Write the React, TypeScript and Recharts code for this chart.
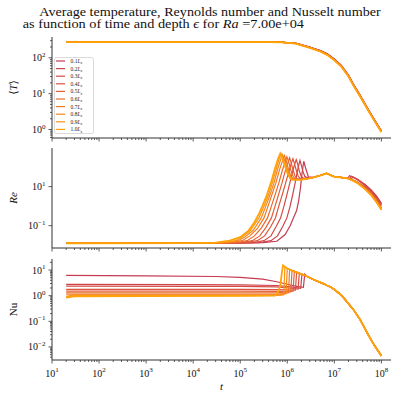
import React from 'react';
import { LineChart, Line, XAxis, YAxis, Legend } from 'recharts';

type Pt = [number, number];

const serif = "'Liberation Serif', 'DejaVu Serif', serif";
const frame = '#333';

const depths = ['0.1', '0.2', '0.3', '0.4', '0.5', '0.6', '0.7', '0.8', '0.9', '1.0'];
const colors = ['#c63b52', '#cd434b', '#d54b44', '#dc543d', '#e35e36', '#ea6a2e', '#ef7826', '#f4861d', '#f99413', '#ffa309'];

// axis ranges + major ticks
const xDomain: [number, number] = [10, 1.6e8];
const xMajor = [1e1, 1e2, 1e3, 1e4, 1e5, 1e6, 1e7, 1e8];
const tempDomain: [number, number] = [0.58, 380];
const tempMajor = [1, 10, 100];
const reDomain: [number, number] = [0.0072, 950];
const reMajor = [0.1, 10];
const nuDomain: [number, number] = [0.0031, 27];
const nuMajor = [0.01, 0.1, 1, 10];

// <T> : shared time samples
const tempTime = [20, 1e3, 1e5, 4e5, 8e5, 1.5e6, 3e6, 5e6, 7e6, 1e7, 1.4e7, 2e7, 2.6e7, 3.5e7, 5e7, 7e7, 1e8];
const temp01 = [275, 275, 274, 273, 270, 256, 200, 160, 131, 93, 62, 33, 17.5, 9.3, 4.1, 1.95, 0.92];
const temp02 = [275, 275, 274, 273, 270, 255, 199, 159, 130, 92, 61, 32.5, 17.3, 9.2, 4.05, 1.93, 0.91];
const temp03 = [275, 275, 274, 273, 270, 254, 197, 158, 128, 91, 60, 32, 17, 9.1, 4.0, 1.91, 0.9];
const temp04 = [275, 275, 274, 273, 269, 253, 196, 156, 127, 90, 59.5, 31.6, 16.8, 9.0, 3.95, 1.89, 0.89];
const temp05 = [275, 275, 274, 272, 269, 253, 195, 155, 126, 89, 59, 31.2, 16.6, 8.9, 3.92, 1.87, 0.89];
const temp06 = [275, 275, 274, 272, 269, 252, 194, 154, 125, 88, 58.5, 30.9, 16.4, 8.8, 3.9, 1.85, 0.88];
const temp07 = [275, 275, 274, 272, 268, 251, 193, 153, 124, 87, 58, 30.6, 16.3, 8.7, 3.87, 1.83, 0.87];
const temp08 = [275, 275, 274, 272, 268, 251, 192, 152, 123, 86.5, 57.6, 30.4, 16.2, 8.6, 3.85, 1.82, 0.86];
const temp09 = [275, 275, 274, 272, 268, 250, 191, 151, 122, 86, 57.3, 30.2, 16.1, 8.55, 3.82, 1.81, 0.86];
const temp10 = [275, 275, 274, 272, 268, 250, 190, 150, 121, 85, 57, 30, 16, 8.5, 3.8, 1.8, 0.85];

// Re : rise / peak per depth, then tails
const re01: Pt[] = [[20, 0.0126], [1e5, 0.0127], [3e5, 0.0135], [6e5, 0.016], [9e5, 0.035], [1.15e6, 0.1], [1.35e6, 0.25], [1.58e6, 0.6], [1.74e6, 1.8], [1.9e6, 8], [2.05e6, 45], [2.24e6, 200], [2.45e6, 90], [2.8e6, 32], [3.6e6, 30]];
const re02: Pt[] = [[20, 0.0126], [1e4, 0.0127], [2.5e5, 0.0134], [4.5e5, 0.017], [6.2e5, 0.03], [8e5, 0.09], [9.8e5, 0.25], [1.15e6, 1.0], [1.3e6, 3.8], [1.45e6, 13], [1.6e6, 45], [1.74e6, 120], [1.86e6, 220], [1.98e6, 130], [2.15e6, 60], [2.35e6, 34], [2.6e6, 29], [3.1e6, 29], [3.6e6, 30]];
const re03: Pt[] = [[20, 0.0126], [1e4, 0.0127], [1.8e5, 0.0134], [3.2e5, 0.017], [4.5e5, 0.03], [5.8e5, 0.09], [7.2e5, 0.25], [8.5e5, 1.0], [9.8e5, 3.8], [1.13e6, 15], [1.28e6, 50], [1.42e6, 130], [1.55e6, 240], [1.65e6, 150], [1.8e6, 65], [1.97e6, 34], [2.15e6, 28], [2.6e6, 27], [3.2e6, 28.5], [3.6e6, 30]];
const re04: Pt[] = [[20, 0.0126], [1e4, 0.0127], [1.3e5, 0.0134], [2.3e5, 0.017], [3.3e5, 0.03], [4.4e5, 0.085], [5.6e5, 0.25], [6.6e5, 1.0], [7.8e5, 3.8], [9.2e5, 15], [1.07e6, 55], [1.2e6, 140], [1.32e6, 270], [1.41e6, 160], [1.55e6, 70], [1.7e6, 35], [1.85e6, 27], [2.2e6, 25], [2.8e6, 26.5], [3.6e6, 30]];
const re05: Pt[] = [[20, 0.0126], [1e4, 0.0127], [1e5, 0.0134], [1.8e5, 0.017], [2.6e5, 0.03], [3.5e5, 0.08], [4.6e5, 0.25], [5.5e5, 1.0], [6.5e5, 3.8], [7.7e5, 15], [9e5, 60], [1.02e6, 150], [1.12e6, 300], [1.2e6, 180], [1.32e6, 75], [1.45e6, 36], [1.6e6, 26], [1.9e6, 24], [2.4e6, 25], [3e6, 27], [3.6e6, 30]];
const re06: Pt[] = [[20, 0.0126], [1e4, 0.0127], [8e4, 0.0134], [1.4e5, 0.017], [2e5, 0.03], [2.8e5, 0.075], [3.8e5, 0.25], [4.6e5, 1.0], [5.5e5, 3.8], [6.6e5, 15], [7.8e5, 65], [8.9e5, 170], [9.8e5, 340], [1.06e6, 200], [1.17e6, 80], [1.3e6, 37], [1.45e6, 26], [1.7e6, 23.5], [2.2e6, 24], [2.8e6, 26], [3.6e6, 30]];
const re07: Pt[] = [[20, 0.0126], [1e4, 0.0127], [6e4, 0.0134], [1.1e5, 0.017], [1.6e5, 0.03], [2.3e5, 0.07], [3.2e5, 0.25], [3.9e5, 1.0], [4.7e5, 3.8], [5.7e5, 15], [6.8e5, 70], [7.8e5, 190], [8.7e5, 390], [9.4e5, 230], [1.05e6, 85], [1.17e6, 38], [1.32e6, 26], [1.6e6, 23], [2.1e6, 23.5], [2.8e6, 26], [3.6e6, 30]];
const re08: Pt[] = [[20, 0.0126], [1e4, 0.0127], [5e4, 0.0134], [9e4, 0.017], [1.3e5, 0.028], [1.9e5, 0.06], [2.8e5, 0.25], [3.5e5, 1.0], [4.3e5, 3.8], [5.2e5, 15], [6.2e5, 75], [7.1e5, 210], [7.9e5, 430], [8.6e5, 260], [9.8e5, 95], [1.1e6, 40], [1.25e6, 26], [1.5e6, 23], [2e6, 23], [2.8e6, 26], [3.6e6, 30]];
const re09: Pt[] = [[20, 0.0126], [1e4, 0.0127], [4e4, 0.0134], [8e4, 0.017], [1.1e5, 0.026], [1.65e5, 0.058], [2.5e5, 0.25], [3.2e5, 1.0], [4e5, 3.8], [4.8e5, 15], [5.8e5, 80], [6.6e5, 230], [7.4e5, 470], [8e5, 300], [9.3e5, 100], [1.05e6, 42], [1.2e6, 27], [1.4e6, 23], [2e6, 23], [2.8e6, 26], [3.6e6, 30]];
const re10: Pt[] = [[20, 0.0126], [1e4, 0.0128], [3e4, 0.0135], [6e4, 0.017], [1e5, 0.026], [1.5e5, 0.055], [2e5, 0.15], [2.5e5, 0.4], [3e5, 1.1], [3.7e5, 3.8], [4.5e5, 16], [5.5e5, 87], [6.3e5, 250], [7.1e5, 500], [7.7e5, 320], [9e5, 110], [1.02e6, 45], [1.15e6, 27], [1.3e6, 22], [2e6, 23], [2.8e6, 26], [3.6e6, 30]];

const reTail01: Pt[] = [[5e6, 37], [6.8e6, 48], [8.5e6, 38], [1e7, 32], [1.5e7, 29], [1.9e7, 26], [2.1e7, 36], [3e7, 25], [4.5e7, 13], [6e7, 7], [8e7, 3.2], [1e8, 1.4]];
const reTail02: Pt[] = [[5e6, 37], [6.8e6, 48], [8.5e6, 38], [1e7, 32], [1.5e7, 29], [2.1e7, 26], [2.3e7, 34], [3e7, 24], [4.5e7, 12], [6e7, 6.4], [8e7, 2.9], [1e8, 1.3]];
const reTail03: Pt[] = [[5e6, 37], [6.8e6, 48], [8.5e6, 38], [1e7, 32], [1.5e7, 29], [2.3e7, 25], [2.5e7, 31], [3.3e7, 21], [4.5e7, 11], [6e7, 5.8], [8e7, 2.6], [1e8, 1.15]];
const reTail04: Pt[] = [[5e6, 37], [6.8e6, 48], [8.5e6, 38], [1e7, 32], [1.5e7, 29], [2e7, 27], [3e7, 18], [4.5e7, 9.5], [6e7, 5], [8e7, 2.3], [1e8, 1.0]];
const reTailMid: Pt[] = [[5e6, 37], [6.8e6, 48], [8.5e6, 38], [1e7, 32], [1.5e7, 29], [2e7, 26.5], [3e7, 17], [3.5e7, 13], [4.5e7, 8.3], [6e7, 4.3], [8e7, 1.8], [1e8, 0.8]];
const reTailOrange: Pt[] = [[5e6, 37], [6.8e6, 48], [8.5e6, 38], [1e7, 32], [1.5e7, 29], [2e7, 26], [3e7, 16], [3.5e7, 12], [4.5e7, 7.5], [6e7, 3.8], [8e7, 1.5], [1e8, 0.66]];

// Nu : plateau, jump, then shared decay
const nu01: Pt[] = [[20, 6.2], [1e3, 5.9], [3e4, 5.6], [1e5, 5.2], [3e5, 4.4], [6e5, 3.5], [1e6, 2.8], [1.6e6, 2.3], [2.2e6, 2.1], [2.35e6, 7.0], [2.5e6, 6.2]];
const nu02: Pt[] = [[20, 2.75], [1e4, 2.72], [1e5, 2.65], [6e5, 2.5], [1.2e6, 2.2], [1.93e6, 1.95], [2.05e6, 6.8], [2.25e6, 6.4]];
const nu03: Pt[] = [[20, 2.35], [1e4, 2.32], [1e5, 2.3], [6e5, 2.2], [1.2e6, 1.95], [1.7e6, 1.8], [1.8e6, 7.5], [1.9e6, 7.2], [2.25e6, 6.4]];
const nu04: Pt[] = [[20, 1.75], [1e5, 1.75], [6e5, 1.72], [1.49e6, 1.65], [1.58e6, 8.2], [1.9e6, 7.2], [2.25e6, 6.4]];
const nu05: Pt[] = [[20, 1.5], [1e5, 1.5], [6e5, 1.48], [1.33e6, 1.5], [1.41e6, 8.9], [1.6e6, 8.1], [1.9e6, 7.2], [2.25e6, 6.4]];
const nu06: Pt[] = [[20, 1.3], [1e5, 1.3], [6e5, 1.3], [1.19e6, 1.4], [1.26e6, 9.6], [1.35e6, 9.1], [1.6e6, 8.1], [1.9e6, 7.2], [2.25e6, 6.4]];
const nu07: Pt[] = [[20, 1.15], [1e5, 1.15], [6e5, 1.16], [8e5, 1.2], [1.06e6, 1.3], [1.12e6, 10.5], [1.35e6, 9.1], [1.6e6, 8.1], [1.9e6, 7.2], [2.25e6, 6.4]];
const nu08: Pt[] = [[20, 0.95], [30, 1.05], [1e5, 1.05], [6e5, 1.06], [8e5, 1.12], [9.4e5, 1.2], [1e6, 11.5], [1.15e6, 10.3], [1.35e6, 9.1], [1.6e6, 8.1], [1.9e6, 7.2], [2.25e6, 6.4]];
const nu09: Pt[] = [[20, 0.9], [30, 1.0], [1e5, 1.0], [6e5, 1.02], [7.5e5, 1.06], [8.4e5, 1.1], [8.9e5, 13.2], [1e6, 11.5], [1.15e6, 10.3], [1.35e6, 9.1], [1.6e6, 8.1], [1.9e6, 7.2], [2.25e6, 6.4]];
const nu10: Pt[] = [[20, 0.85], [30, 0.95], [1e3, 0.97], [1e5, 0.99], [5.5e5, 1.0], [6.5e5, 1.5], [7.1e5, 2.5], [7.6e5, 7], [8.1e5, 15.2], [9e5, 13.2], [1e6, 11.5], [1.15e6, 10.3], [1.35e6, 9.1], [1.6e6, 8.1], [1.9e6, 7.2], [2.25e6, 6.4]];
const nuTail: Pt[] = [[2.7e6, 5.5], [3.6e6, 4.3], [4.5e6, 3.6], [6e6, 2.9], [7e6, 2.5], [8.5e6, 2.15], [1e7, 1.75], [1.35e7, 1.12], [1.8e7, 0.62], [2.6e7, 0.27], [3.6e7, 0.11], [5e7, 0.035], [7e7, 0.012], [1e8, 0.0045]];

const tempRows = [temp01, temp02, temp03, temp04, temp05, temp06, temp07, temp08, temp09, temp10];
const tempSeries: Pt[][] = tempRows.map((row) => row.map((v, k) => [tempTime[k], v] as Pt));
const reSeries: Pt[][] = [
  [...re01, ...reTail01], [...re02, ...reTail02], [...re03, ...reTail03], [...re04, ...reTail04],
  [...re05, ...reTailMid], [...re06, ...reTailMid], [...re07, ...reTailMid],
  [...re08, ...reTailOrange], [...re09, ...reTailOrange], [...re10, ...reTailOrange],
];
const nuSeries: Pt[][] = [nu01, nu02, nu03, nu04, nu05, nu06, nu07, nu08, nu09, nu10].map((s) => [...s, ...nuTail]);

// decade ticks plus 2..9 minors inside the domain
const withMinors = (majors: number[], [lo, hi]: [number, number]) => {
  const out: number[] = [];
  for (let e = Math.round(Math.log10(majors[0])) - 1; Math.pow(10, e) <= hi; e++) {
    for (let m = 1; m < 10; m++) {
      const v = m * Math.pow(10, e);
      if (v >= lo && v <= hi) out.push(v);
    }
  }
  return out;
};
const xTicks = withMinors(xMajor, xDomain);

const isMajor = (v: number) => Math.abs(Math.log10(v) - Math.round(Math.log10(v))) < 1e-6;
const expText = (v: number) => {
  const e = Math.round(Math.log10(v));
  return e < 0 ? `\u2212${-e}` : `${e}`;
};

const XTick = (props: any) => {
  const { x, y, payload, labels } = props;
  const major = isMajor(payload.value);
  return (
    <g>
      <line x1={x} x2={x} y1={y} y2={y + (major ? 3.5 : 2)} stroke={frame} strokeWidth={0.8} />
      {major && labels && (
        <text x={x} y={y + 16.5} textAnchor="middle" fontFamily={serif} fontSize={10} fill="#111">
          10<tspan dy={-4.5} fontSize={7}>{expText(payload.value)}</tspan>
        </text>
      )}
    </g>
  );
};

const YTick = (props: any) => {
  const { x, y, payload } = props;
  const major = isMajor(payload.value);
  return (
    <g>
      <line x1={x - (major ? 3.5 : 2)} x2={x} y1={y} y2={y} stroke={frame} strokeWidth={0.8} />
      {major && (
        <text x={x - 6.5} y={y + 3.5} textAnchor="end" fontFamily={serif} fontSize={10} fill="#111">
          10<tspan dy={-4.5} fontSize={7}>{expText(payload.value)}</tspan>
        </text>
      )}
    </g>
  );
};

const LegendBox = () => (
  <svg width={40} height={77} style={{ display: 'block' }}>
    <rect x={0.5} y={0.5} width={39} height={76} rx={2} fill="#fff" fillOpacity={0.85} stroke="#d0d0d0" strokeWidth={0.8} />
    {depths.map((d, i) => (
      <g key={d} transform={`translate(0, ${4 + i * 7.6})`}>
        <line x1={2} x2={11} y1={0} y2={0} stroke={colors[i]} strokeWidth={1.2} />
        <text x={16.5} y={1.9} fontSize={5.5} fontFamily={serif} fill="#222">
          {d}
          <tspan fontStyle="italic">L</tspan>
          <tspan fontSize={4} dy={1.2}>z</tspan>
        </text>
      </g>
    ))}
  </svg>
);

interface PanelProps {
  top: number;
  plotH: number;
  xAxisH: number;
  domain: [number, number];
  yTicks: number[];
  series: Pt[][];
  showX?: boolean;
  legend?: boolean;
}

function Panel({ top, plotH, xAxisH, domain, yTicks, series, showX, legend }: PanelProps) {
  return (
    <div style={{ position: 'absolute', left: 0, top }}>
      <LineChart width={394} height={2 + plotH + xAxisH} margin={{ top: 2, right: 3, bottom: 0, left: 0 }}>
        <XAxis
          dataKey="t"
          type="number"
          scale="log"
          domain={xDomain}
          allowDataOverflow
          ticks={xTicks}
          interval={0}
          tickSize={0}
          tickMargin={0}
          tickLine={false}
          axisLine={{ stroke: frame }}
          height={xAxisH}
          tick={<XTick labels={showX} />}
        />
        <XAxis
          xAxisId="top"
          orientation="top"
          type="number"
          scale="log"
          domain={xDomain}
          allowDataOverflow
          height={0}
          tick={false}
          tickLine={false}
          axisLine={{ stroke: frame }}
        />
        <YAxis
          type="number"
          scale="log"
          domain={domain}
          allowDataOverflow
          ticks={yTicks}
          interval={0}
          width={52}
          tickSize={0}
          tickMargin={0}
          tickLine={false}
          axisLine={{ stroke: frame }}
          tick={<YTick />}
        />
        <YAxis
          yAxisId="r"
          orientation="right"
          type="number"
          scale="log"
          domain={domain}
          allowDataOverflow
          width={0}
          tick={false}
          tickLine={false}
          axisLine={{ stroke: frame }}
        />
        {series.map((pts, i) => (
          <Line
            key={depths[i]}
            name={depths[i]}
            data={pts.map(([t, v]) => ({ t, v }))}
            dataKey="v"
            type="linear"
            stroke={colors[i]}
            strokeWidth={i === 9 ? 1.8 : 1.2}
            dot={false}
            activeDot={false}
            isAnimationActive={false}
          />
        ))}
        {legend && (
          <Legend
            layout="horizontal"
            verticalAlign="middle"
            align="center"
            content={<LegendBox />}
            wrapperStyle={{ left: 54, top: 22, width: 40, height: 77 }}
          />
        )}
      </LineChart>
    </div>
  );
}

export default function App() {
  const txt = { fontFamily: serif, fill: '#111' };
  return (
    <div style={{ position: 'absolute', left: 0, top: 0, width: 394, height: 393, background: '#fff', overflow: 'hidden' }}>
      <svg width={394} height={393} style={{ position: 'absolute', left: 0, top: 0 }}>
        <text x={39.3} y={15.7} fontSize={12.5} textLength={341.4} lengthAdjust="spacingAndGlyphs" {...txt}>
          Average temperature, Reynolds number and Nusselt number
        </text>
        <text x={22.7} y={28.3} fontSize={12.5} textLength={281.3} lengthAdjust="spacingAndGlyphs" {...txt}>
          as function of time and depth <tspan fontStyle="italic">ϵ</tspan> for <tspan fontStyle="italic">Ra</tspan> =7.00e+04
        </text>
        <text transform="translate(12.5,87.5) rotate(-90)" textAnchor="middle" dominantBaseline="central" fontSize={11} {...txt}>
          ⟨<tspan fontStyle="italic">T</tspan>⟩
        </text>
        <text transform="translate(12.5,198) rotate(-90)" textAnchor="middle" dominantBaseline="central" fontSize={11} fontStyle="italic" {...txt}>
          Re
        </text>
        <text transform="translate(12.5,309.5) rotate(-90)" textAnchor="middle" dominantBaseline="central" fontSize={11} {...txt}>
          Nu
        </text>
        <text x={221.5} y={389.5} textAnchor="middle" fontSize={11} fontStyle="italic" {...txt}>
          t
        </text>
      </svg>
      <Panel top={35} plotH={101} xAxisH={6} domain={tempDomain} yTicks={withMinors(tempMajor, tempDomain)} series={tempSeries} legend />
      <Panel top={146} plotH={100} xAxisH={6} domain={reDomain} yTicks={reMajor} series={reSeries} />
      <Panel top={257} plotH={101} xAxisH={35} domain={nuDomain} yTicks={withMinors(nuMajor, nuDomain)} series={nuSeries} showX />
    </div>
  );
}
